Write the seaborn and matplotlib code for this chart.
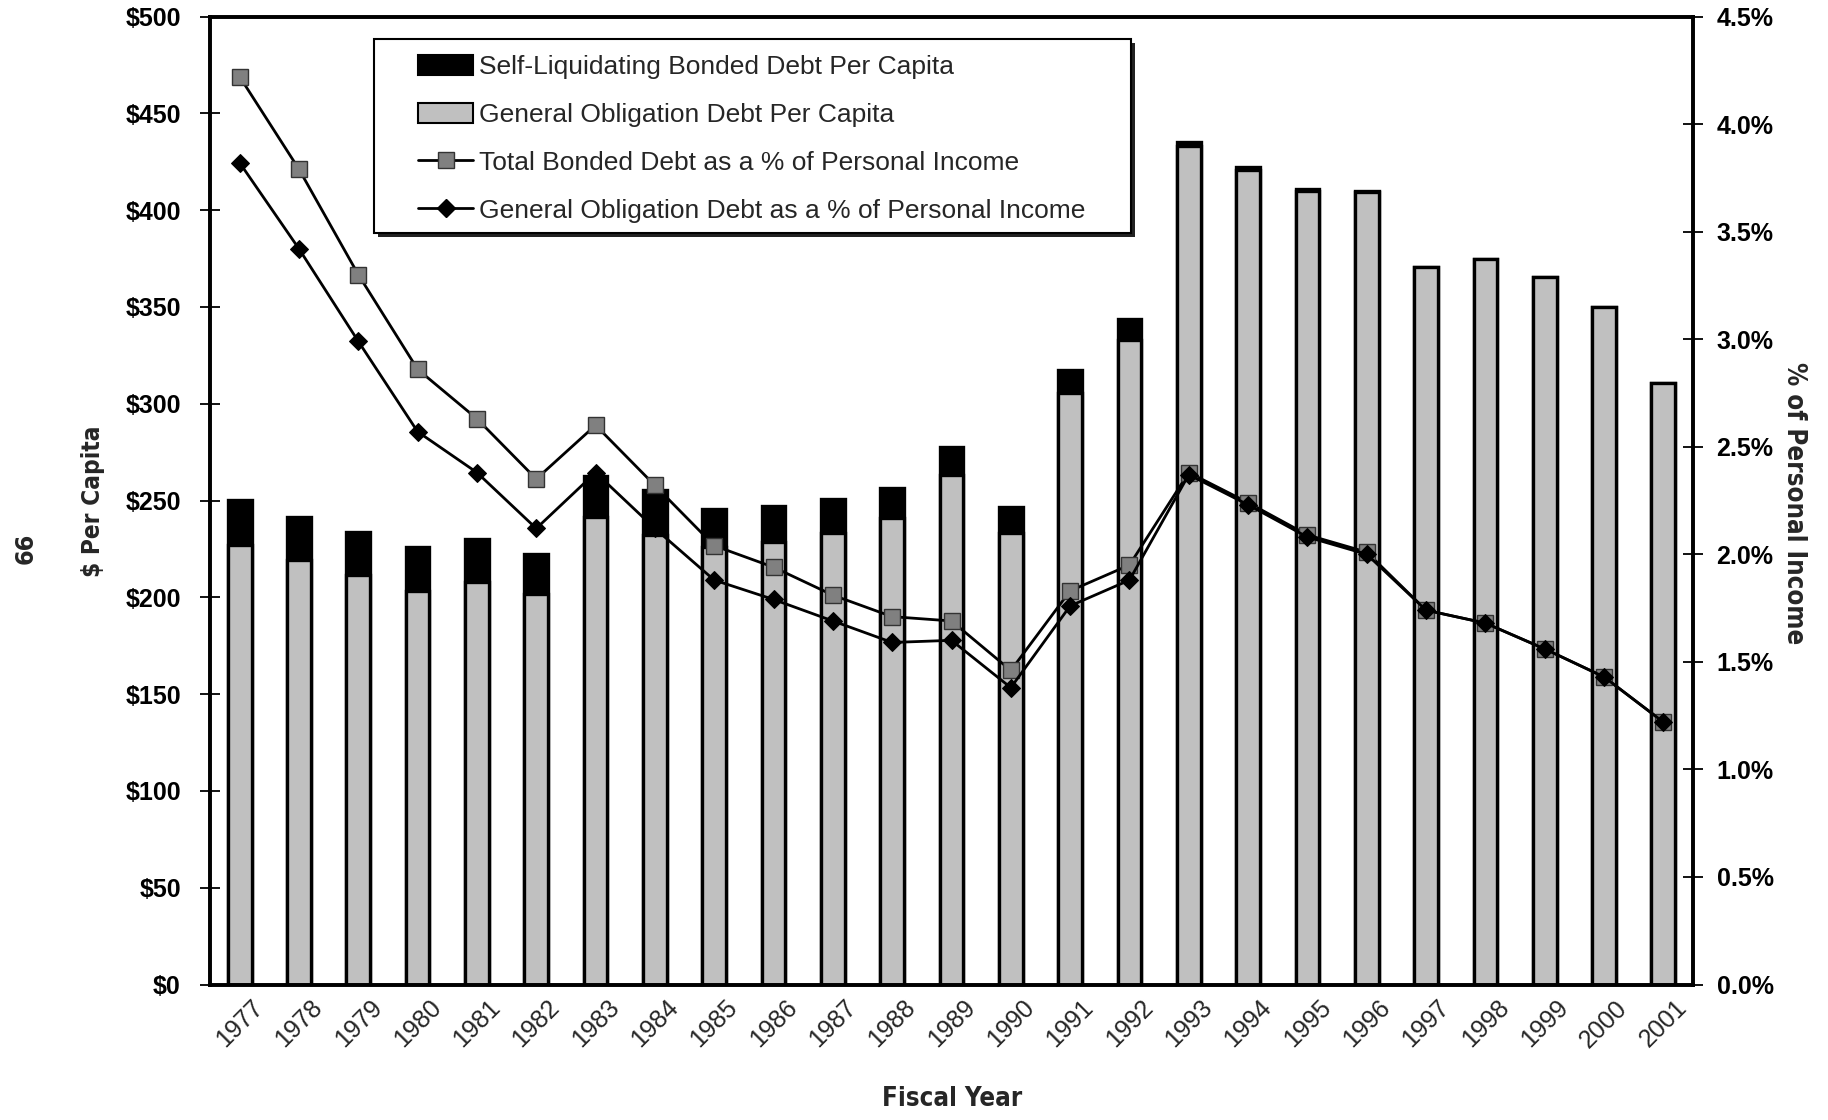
import matplotlib
matplotlib.use("Agg")
import matplotlib.pyplot as plt
from matplotlib.patches import Patch, Rectangle
from matplotlib.lines import Line2D
from matplotlib.font_manager import FontProperties
import seaborn as sns
import numpy as np
import pandas as pd

# ---------------- data ----------------
years = ["1977", "1978", "1979", "1980", "1981", "1982", "1983", "1984", "1985",
         "1986", "1987", "1988", "1989", "1990", "1991", "1992", "1993", "1994",
         "1995", "1996", "1997", "1998", "1999", "2000", "2001"]
go_per_capita = [227.0, 219.2, 211.5, 203.0, 208.1, 201.5, 241.3, 232.2, 226.0,
                 228.8, 233.4, 240.8, 263.1, 233.4, 305.4, 332.9, 433.2, 420.8,
                 409.7, 409.3, 370.6, 374.5, 365.6, 350.1, 310.5]
self_liq_per_capita = [23.4, 22.4, 22.0, 22.8, 21.8, 20.8, 21.5, 23.2, 19.6,
                       18.5, 17.4, 15.9, 14.3, 13.0, 12.0, 10.6, 1.8, 1.4,
                       1.4, 0.8, 0.0, 0.0, 0.0, 0.0, 0.0]
total_pct_income = [4.22, 3.79, 3.30, 2.86, 2.63, 2.35, 2.60, 2.32, 2.04,
                    1.94, 1.81, 1.71, 1.69, 1.46, 1.83, 1.95, 2.38, 2.24,
                    2.09, 2.01, 1.74, 1.68, 1.56, 1.43, 1.22]
go_pct_income = [3.82, 3.42, 2.99, 2.57, 2.38, 2.12, 2.38, 2.12, 1.88,
                 1.79, 1.69, 1.59, 1.60, 1.38, 1.76, 1.88, 2.37, 2.23,
                 2.08, 2.00, 1.74, 1.68, 1.56, 1.43, 1.22]
left_ticks = [0, 50, 100, 150, 200, 250, 300, 350, 400, 450, 500]
left_tick_labels = ["$0", "$50", "$100", "$150", "$200", "$250", "$300",
                    "$350", "$400", "$450", "$500"]
right_ticks = [0.0, 0.5, 1.0, 1.5, 2.0, 2.5, 3.0, 3.5, 4.0, 4.5]
right_tick_labels = ["0.0%", "0.5%", "1.0%", "1.5%", "2.0%", "2.5%", "3.0%",
                     "3.5%", "4.0%", "4.5%"]
legend_labels = ["Self-Liquidating Bonded Debt Per Capita",
                 "General Obligation Debt Per Capita",
                 "Total Bonded Debt as a % of Personal Income",
                 "General Obligation Debt as a % of Personal Income"]

df = pd.DataFrame({
    "year": years,
    "go": go_per_capita,
    "total": [g + s for g, s in zip(go_per_capita, self_liq_per_capita)],
    "pos": np.arange(len(years)),
    "tot_pct": total_pct_income,
    "go_pct": go_pct_income,
})

# ---------------- style ----------------
sns.set_style("white")
plt.rcParams["font.family"] = ["Liberation Sans", "DejaVu Sans"]

def title_font(size):
    return FontProperties(family="DejaVu Sans", weight="bold",
                          stretch="condensed", size=size)

GRAY_BAR = "#c0c0c0"
GRAY_MARK = "#808080"

W, H = 1828, 1120
fig = plt.figure(figsize=(W / 100, H / 100), dpi=100)
ax = fig.add_axes([210 / W, 1 - 984.5 / H, (1693 - 210) / W, (984.5 - 16.5) / H])

BAR_W = 0.40
EDGE_LW = 2.4

# total (self-liquidating shows as the black top part), then GO on top
sns.barplot(data=df, x="year", y="total", color="black", saturation=1,
            width=BAR_W, edgecolor="black", linewidth=EDGE_LW, ax=ax,
            errorbar=None)
sns.barplot(data=df, x="year", y="go", color=GRAY_BAR, saturation=1,
            width=BAR_W, edgecolor="black", linewidth=EDGE_LW, ax=ax,
            errorbar=None)

ax.set_xlim(-0.5, len(years) - 0.5)
ax.set_ylim(0, 500)
ax.set_yticks(left_ticks)
ax.set_yticklabels(left_tick_labels)
ax.set_xlabel("")
ax.set_ylabel("")
ax.tick_params(axis="y", direction="inout", length=14, width=1.3,
               labelsize=18, pad=14, colors="black")
ax.tick_params(axis="x", length=0, labelsize=18, pad=8, rotation=45)
for lab in ax.get_xticklabels():
    lab.set_ha("center")
for lab in ax.get_yticklabels():
    lab.set_fontweight("bold")

ax2 = ax.twinx()
ax2.set_position(ax.get_position())
sns.lineplot(data=df, x="pos", y="tot_pct", color="black", linewidth=2.0,
             marker="s", markersize=11, markerfacecolor=GRAY_MARK,
             markeredgecolor="#333333", markeredgewidth=1.0, ax=ax2,
             zorder=3)
sns.lineplot(data=df, x="pos", y="go_pct", color="black", linewidth=2.0,
             marker="D", markersize=9.5, markerfacecolor="black",
             markeredgecolor="black", ax=ax2, zorder=4)
ax2.set_ylim(0, 4.5)
ax2.set_xlim(-0.5, len(years) - 0.5)
ax2.set_yticks(right_ticks)
ax2.set_yticklabels(right_tick_labels)
ax2.set_ylabel("")
ax2.set_xlabel("")
ax2.tick_params(axis="y", direction="inout", length=14, width=1.3,
                labelsize=18, pad=10, colors="black")
for lab in ax2.get_yticklabels():
    lab.set_fontweight("bold")

for a in (ax, ax2):
    for sp in a.spines.values():
        sp.set_visible(True)
        sp.set_color("black")
        sp.set_linewidth(2.6)

# legend box (frame drawn separately to get the wide side margins)
bx0, by0, bx1, by1 = 374, 38.5, 1131, 233
fig.patches.append(Rectangle((bx0 / W + 4 / W, 1 - by1 / H - 4 / H),
                             (bx1 - bx0) / W, (by1 - by0) / H,
                             transform=fig.transFigure, facecolor="#222222",
                             edgecolor="none", zorder=5))
fig.patches.append(Rectangle((bx0 / W, 1 - by1 / H), (bx1 - bx0) / W,
                             (by1 - by0) / H, transform=fig.transFigure,
                             facecolor="white", edgecolor="black",
                             linewidth=1.5, zorder=6))

handles = [
    Patch(facecolor="black", edgecolor="black", linewidth=1.5),
    Patch(facecolor=GRAY_BAR, edgecolor="black", linewidth=1.5),
    Line2D([], [], color="black", linewidth=2.0, marker="s", markersize=11,
           markerfacecolor=GRAY_MARK, markeredgecolor="#333333"),
    Line2D([], [], color="black", linewidth=2.0, marker="D", markersize=9.5,
           markerfacecolor="black", markeredgecolor="black"),
]
leg = fig.legend(handles, legend_labels, loc="upper left",
                 bbox_to_anchor=(418 / W, 1 - 55 / H),
                 bbox_transform=fig.transFigure, fontsize=19,
                 frameon=False, handlelength=2.1, handleheight=0.8,
                 handletextpad=0.2, labelspacing=0.89, borderpad=0,
                 borderaxespad=0)
leg.set_zorder(7)

# axis titles
fig.text(93 / W, 1 - 501 / H, "$ Per Capita", rotation=90,
         ha="center", va="center", fontproperties=title_font(17.5))
fig.text(1794 / W, 1 - 503 / H, "% of Personal Income", rotation=-90,
         ha="center", va="center", fontproperties=title_font(18.5))
fig.text(952 / W, 1 - 1099 / H, "Fiscal Year", ha="center",
         va="center", fontproperties=title_font(18.5))
fig.text(26 / W, 1 - 548 / H, "66", rotation=90, ha="center",
         va="center", fontproperties=title_font(18))

fig.savefig("out.png", dpi=100)
